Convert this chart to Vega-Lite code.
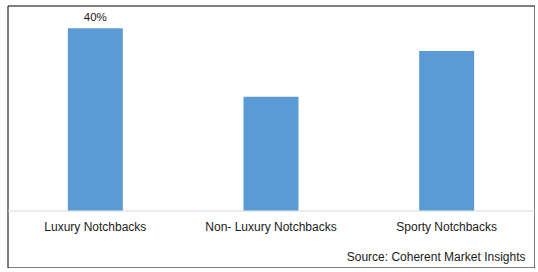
{
  "$schema": "https://vega.github.io/schema/vega-lite/v6.json",
  "width": 527,
  "height": 262,
  "autosize": {"type": "none"},
  "padding": {"left": 7.5, "top": 5.5, "right": 0, "bottom": 0},
  "background": "white",
  "config": {
    "view": {"stroke": "#000000", "strokeWidth": 1},
    "font": "Liberation Sans"
  },
  "title": {
    "text": "Source: Coherent Market Insights",
    "orient": "bottom",
    "anchor": "end",
    "frame": "group",
    "offset": -16,
    "dx": -9,
    "fontSize": 12,
    "fontWeight": "normal",
    "color": "#1a1a1a",
    "font": "Liberation Sans"
  },
  "data": {
    "values": [
      {"segment": "Luxury Notchbacks", "share": 40, "label": "40%"},
      {"segment": "Non- Luxury Notchbacks", "share": 25, "label": ""},
      {"segment": "Sporty Notchbacks", "share": 35, "label": ""}
    ]
  },
  "encoding": {
    "x": {
      "field": "segment",
      "type": "nominal",
      "sort": null,
      "scale": {"paddingInner": 0.687, "paddingOuter": 0.3435},
      "axis": {
        "title": null,
        "labelAngle": 0,
        "offset": -57,
        "domainColor": "#d9d9d9",
        "ticks": false,
        "labelPadding": 11,
        "labelFontSize": 12,
        "labelColor": "#1a1a1a",
        "labelFont": "Liberation Sans"
      }
    },
    "y": {
      "field": "share",
      "type": "quantitative",
      "scale": {"domain": [-12.5, 45], "nice": false},
      "axis": null
    }
  },
  "layer": [
    {"mark": {"type": "bar", "color": "#5b9bd5"}},
    {
      "mark": {"type": "text", "dy": -10, "fontSize": 11.5, "color": "#1a1a1a", "font": "Liberation Sans"},
      "encoding": {"text": {"field": "label"}}
    }
  ]
}
